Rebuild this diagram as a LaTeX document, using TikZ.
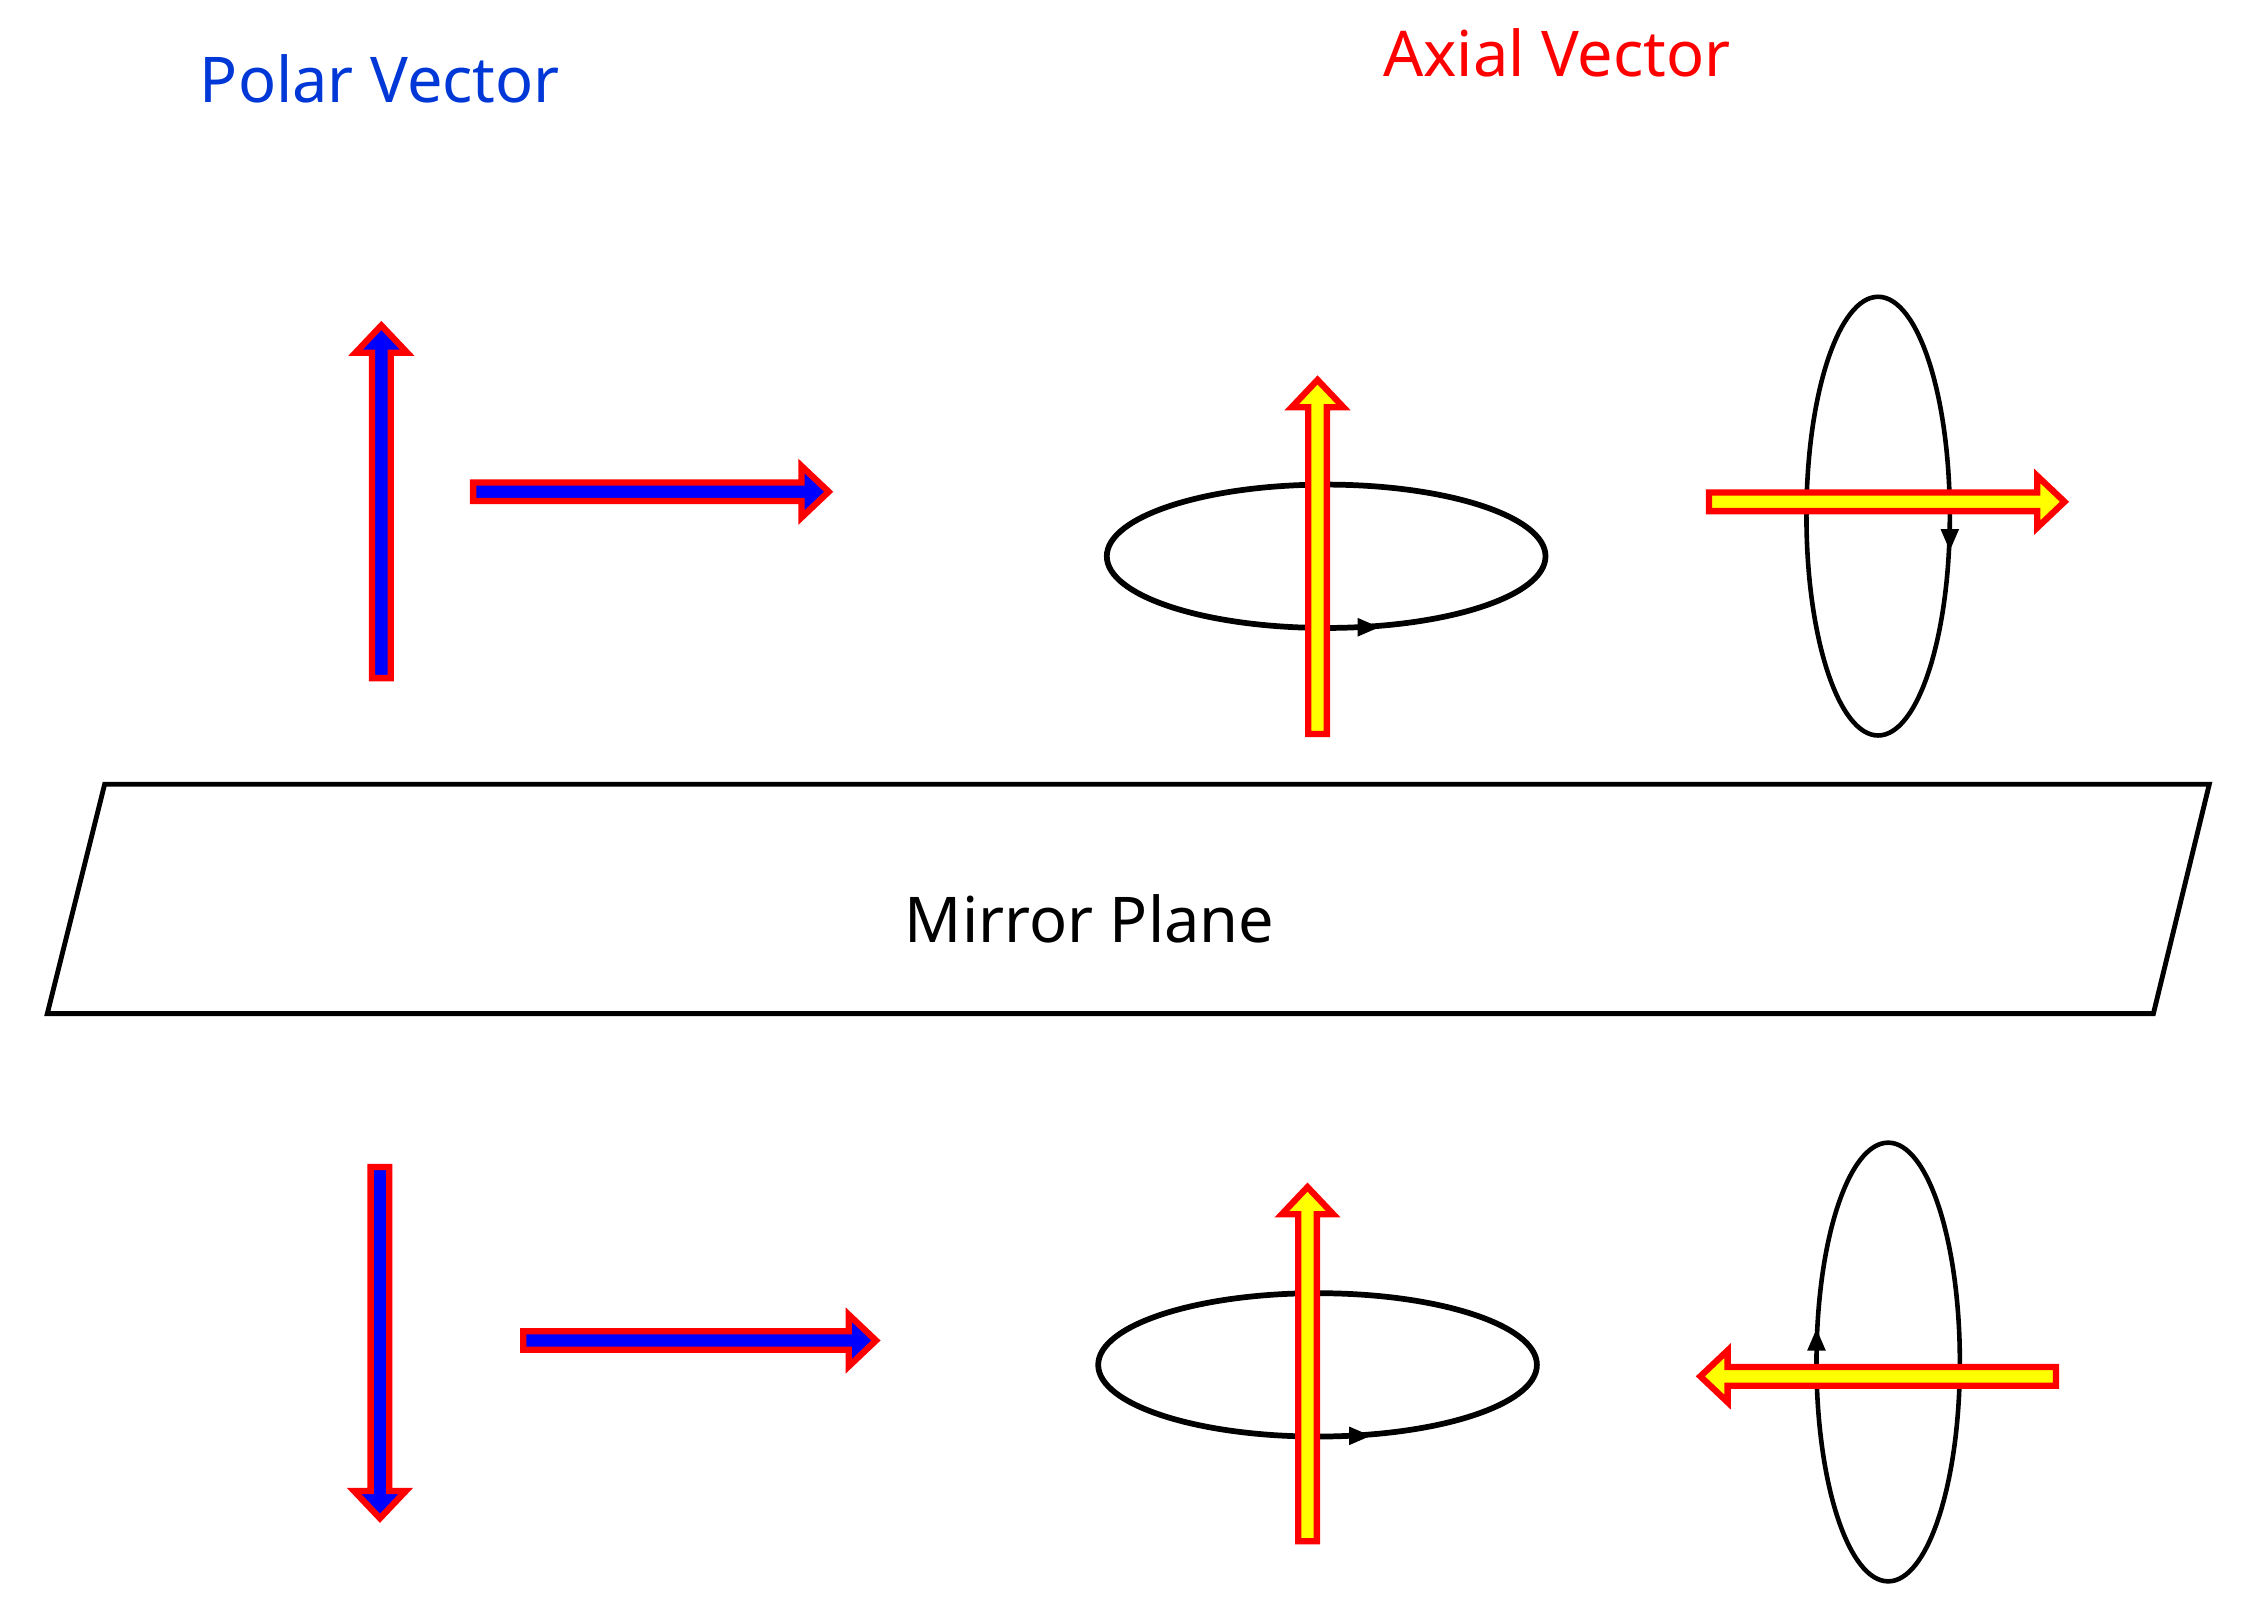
\documentclass[tikz,border=0pt]{standalone}
\usepackage{fontspec}
\setmainfont{Noto Sans}
\definecolor{titleblue}{RGB}{0,55,215}
\definecolor{arrblue}{RGB}{0,0,255}
\definecolor{arrred}{RGB}{255,0,0}
\definecolor{arryellow}{RGB}{255,255,0}
\tikzset{
  barrow/.style={draw=arrred,line width=2.2pt,line join=miter},
  loopline/.style={draw=black,line width=2pt},
  looplinethin/.style={draw=black,line width=1.6pt},
  looptip/.style={fill=black,draw=none},
  planeline/.style={draw=black,line width=1.7pt,line join=miter},
  titletext/.style={font=\fontsize{22}{26}\selectfont,inner sep=0pt},
}
% block arrow: #1 fill colour, #2 tail point, #3 direction angle, #4 length
\newcommand\blockarr[4]{%
  \begin{scope}[shift={#2},rotate=#3]
    \draw[barrow,fill=#1] (0,-6.5) -- (#4-19,-6.5) -- (#4-19,-18) -- (#4,0)
      -- (#4-19,18) -- (#4-19,6.5) -- (0,6.5) -- cycle;
  \end{scope}}
% small loop arrow tip: #1 tip point, #2 direction angle
\newcommand\looptipat[2]{%
  \begin{scope}[shift={#1},rotate=#2]
    \fill[looptip] (0,0) -- (-15,-6.5) -- (-15,6.5) -- cycle;
  \end{scope}}
\begin{document}
\begin{tikzpicture}[x=0.5pt,y=-0.5pt]
\useasboundingbox (0,0) rectangle (1568,1124.4);

% titles
\node[titletext,text=titleblue] (polar) at (265,55) {Polar Vector};
\node[titletext,text=arrred] (axial) at (1086,37) {Axial Vector};

% mirror plane
\draw[planeline] (73,547) -- (1541,547) -- (1502,707) -- (33,707) -- cycle;
\node[titletext,text=black] (mirror) at (760,641) {Mirror Plane};

% ---------- top row ----------
% polar vectors
\blockarr{arrblue}{(266,473)}{90}{246}
\blockarr{arrblue}{(330,343)}{0}{248}

% axial vector 1: horizontal loop, vertical arrow
\draw[loopline] (925,388) ellipse [x radius=153, y radius=50];
\looptipat{(962,437.5)}{0}
\blockarr{arryellow}{(919,512)}{90}{247}

% axial vector 2: vertical loop, horizontal arrow
\draw[looplinethin] (1310,360) ellipse [x radius=50, y radius=153];
\looptipat{(1360,384)}{-90}
\blockarr{arryellow}{(1192,350)}{0}{248}

% ---------- bottom row (mirror images) ----------
\blockarr{arrblue}{(265,814)}{-90}{245}
\blockarr{arrblue}{(365,935)}{0}{246}

\draw[loopline] (919,952) ellipse [x radius=153, y radius=50];
\looptipat{(956,1001.5)}{0}
\blockarr{arryellow}{(912,1075)}{90}{247}

\draw[looplinethin] (1317,950) ellipse [x radius=50, y radius=153];
\looptipat{(1267,927)}{90}
\blockarr{arryellow}{(1434,960)}{180}{248}
\end{tikzpicture}
\end{document}
